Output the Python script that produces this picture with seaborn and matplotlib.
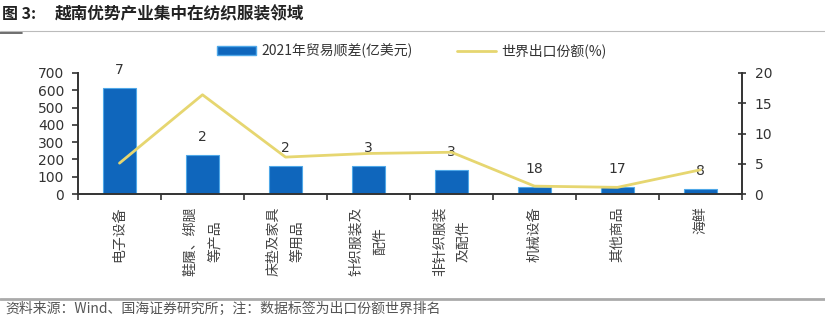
import matplotlib
matplotlib.use("Agg")
import matplotlib.pyplot as plt
import seaborn as sns
import numpy as np
import pandas as pd
from matplotlib.lines import Line2D
from matplotlib.patches import Patch

categories = ["电子设备", "鞋履、绑腿\n等产品", "床垫及家具\n等用品", "针织服装及\n配件",
              "非针织服装\n及配件", "机械设备", "其他商品", "海鲜"]
surplus = [615, 225, 164, 164, 139, 42, 38, 30]
share = [5.1, 16.4, 6.1, 6.7, 6.9, 1.3, 1.1, 4.0]
rank_labels = ["7", "2", "2", "3", "3", "18", "17", "8"]
left_ticks = [0, 100, 200, 300, 400, 500, 600, 700]
right_ticks = [0, 5, 10, 15, 20]

sns.set_theme(style="white")
plt.rcParams['font.family'] = ['Noto Sans CJK SC', 'DejaVu Sans']

W, H = 825, 316
fig = plt.figure(figsize=(W / 100, H / 100), dpi=100)
ax = fig.add_axes([78 / W, 1 - 194 / H, (742 - 78) / W, (194 - 73) / H])

df = pd.DataFrame({"cat": categories, "surplus": surplus, "share": share, "pos": np.arange(len(categories))})

bar_color = "#0F66BC"
line_color = "#E6D670"
sns.barplot(data=df, x="cat", y="surplus", color=bar_color, width=0.4, ax=ax,
            edgecolor="#4FA8E8", linewidth=0.8, saturation=1)
ax.set_ylim(0, 700)
ax.set_xlim(-0.5, len(categories) - 0.5)
ax.set_yticks(left_ticks)
ax.set_xlabel("")
ax.set_ylabel("")

for p, lab in zip(ax.patches, rank_labels):
    ax.annotate(lab, (p.get_x() + p.get_width() / 2, p.get_height()), xytext=(0, 8),
                textcoords="offset points", ha="center", va="bottom", fontsize=10, color="#333333",
                family="DejaVu Sans")

ax2 = ax.twinx()
sns.lineplot(data=df, x="pos", y="share", color=line_color, linewidth=2, ax=ax2)
ax2.set_ylim(0, 20)
ax2.set_yticks(right_ticks)
ax2.set_ylabel("")
ax2.set_xlim(-0.5, len(categories) - 0.5)

spine_col = "#333333"
for a in (ax, ax2):
    for s in a.spines.values():
        s.set_visible(False)
ax.spines["left"].set_visible(True)
ax.spines["bottom"].set_visible(True)
ax2.spines["right"].set_visible(True)
for s in (ax.spines["left"], ax.spines["bottom"], ax2.spines["right"]):
    s.set_color(spine_col)
    s.set_linewidth(1.4)

ax.tick_params(axis="y", which="major", direction="out", length=4, width=1.2, color=spine_col,
               labelsize=10, labelcolor="#333333", pad=6, left=True)
ax2.tick_params(axis="y", which="major", direction="inout", length=6, width=1.2, color=spine_col,
                labelsize=10, labelcolor="#333333", pad=6, right=True)
for t in ax.get_yticklabels() + ax2.get_yticklabels():
    t.set_family("DejaVu Sans")

ax.set_xticks(np.arange(len(categories)))
ax.set_xticklabels(categories, rotation=90, fontsize=10, color="#444444", va="top", ha="center",
                   multialignment="center", linespacing=1.9)
ax.tick_params(axis="x", which="major", length=0, pad=9, bottom=False)
ax.set_xticks(np.arange(len(categories) + 1) - 0.5, minor=True)
ax.tick_params(axis="x", which="minor", direction="out", length=4, width=1.2, color=spine_col, bottom=True)

handles = [Patch(facecolor=bar_color, edgecolor="#4FA8E8"),
           Line2D([0], [0], color=line_color, linewidth=2)]
fig.legend(handles, ["2021年贸易顺差(亿美元)", "世界出口份额(%)"], loc="center",
           bbox_to_anchor=(412 / W, 1 - 51 / H), ncol=2, frameon=False, fontsize=10,
           handlelength=2.8, columnspacing=3.2, handletextpad=0.4, labelcolor="#333333")

fig.text(2 / W, 1 - 14 / H, "图 3:", fontsize=11.5, fontweight="bold", color="#222222", va="center")
fig.text(55 / W, 1 - 14 / H, "越南优势产业集中在纺织服装领域", fontsize=12, fontweight="bold",
         color="#222222", va="center")
fig.add_artist(Line2D([0, 1], [1 - 31 / H, 1 - 31 / H], transform=fig.transFigure, color="#BBBBBB", linewidth=0.8))
fig.add_artist(Line2D([0, 22 / W], [1 - 33 / H, 1 - 33 / H], transform=fig.transFigure, color="#555555", linewidth=1.2))
fig.add_artist(Line2D([0, 1], [1 - 299 / H, 1 - 299 / H], transform=fig.transFigure, color="#AAAAAA", linewidth=2))
fig.text(5 / W, 1 - 309 / H, "资料来源：Wind、国海证券研究所；注：数据标签为出口份额世界排名", fontsize=10,
         color="#555555", va="center")

fig.savefig("out.png", dpi=100)
